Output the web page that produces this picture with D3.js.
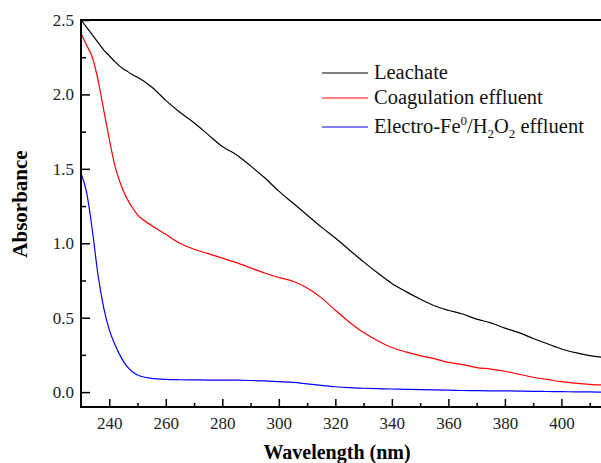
<!DOCTYPE html>
<html><head><meta charset="utf-8">
<script src="https://cdn.jsdelivr.net/npm/d3@7"></script>
<style>body{margin:0;background:#fff}svg{display:block}</style>
</head><body>
<svg id="c" width="601" height="463" font-family="Liberation Serif"></svg>
<script>
const wavelengths = [230,232,234,236,238,240,242,244,246,248,250,255,260,265,270,275,280,285,290,295,300,305,310,315,320,325,330,335,340,345,350,355,360,365,370,375,380,385,390,395,400,405,410,414];
const leachate = [2.50,2.45,2.40,2.35,2.30,2.26,2.22,2.185,2.16,2.135,2.115,2.05,1.96,1.88,1.81,1.73,1.65,1.595,1.52,1.44,1.35,1.27,1.19,1.11,1.035,0.955,0.875,0.80,0.73,0.675,0.625,0.58,0.55,0.525,0.49,0.465,0.43,0.40,0.36,0.325,0.29,0.265,0.245,0.235];
const coagulation = [2.41,2.33,2.25,2.10,1.90,1.70,1.52,1.40,1.31,1.245,1.19,1.12,1.06,1.00,0.96,0.93,0.90,0.87,0.835,0.80,0.77,0.745,0.70,0.635,0.55,0.47,0.40,0.345,0.30,0.27,0.245,0.225,0.20,0.185,0.165,0.155,0.14,0.12,0.10,0.085,0.07,0.06,0.052,0.048];
const electro = [1.47,1.34,1.09,0.79,0.57,0.42,0.32,0.24,0.18,0.14,0.115,0.092,0.085,0.083,0.082,0.081,0.081,0.080,0.078,0.075,0.070,0.065,0.055,0.045,0.036,0.030,0.026,0.023,0.021,0.019,0.017,0.015,0.013,0.011,0.010,0.009,0.008,0.007,0.005,0.004,0.003,0.002,0.001,0.000];
const seriesNames = ["Leachate","Coagulation effluent","Electro-Fe0/H2O2 effluent"];
const seriesColors = ["#000000","#ff0000","#0000ff"];
const xTicks = [240,260,280,300,320,340,360,380,400];
const yTicks = [0.0,0.5,1.0,1.5,2.0,2.5];

const FONT = "Liberation Serif";
const svg = d3.select("#c");
const L=81, R=601, T=20, B=407;
const x = d3.scaleLinear().domain([230,414]).range([L,R]);
const y = d3.scaleLinear().domain([-0.1,2.5]).range([B,T]);

const data = [leachate, coagulation, electro];
const line = d3.line().x((d,i)=>x(wavelengths[i])).y(d=>y(d)).curve(d3.curveMonotoneX);
data.forEach((s,k)=>{
  svg.append("path").datum(s).attr("d",line).attr("fill","none")
    .attr("stroke",seriesColors[k]).attr("stroke-width",1.2);
});

const yAxis = d3.axisLeft(y).tickValues(yTicks).tickFormat(d3.format(".1f")).tickSizeInner(-9).tickSizeOuter(0).tickPadding(7);
const gy = svg.append("g").attr("transform",`translate(${L},0)`).call(yAxis);
const xAxis = d3.axisBottom(x).tickValues(xTicks).tickFormat(d3.format("d")).tickSizeInner(-8).tickSizeOuter(0).tickPadding(10);
const gx = svg.append("g").attr("transform",`translate(0,${B})`).call(xAxis);
const gyMinor = svg.append("g").attr("transform",`translate(${L},0)`)
  .call(d3.axisLeft(y).tickValues([0.25,0.75,1.25,1.75,2.25]).tickFormat("").tickSizeInner(-5).tickSizeOuter(0));
const gxMinor = svg.append("g").attr("transform",`translate(0,${B})`)
  .call(d3.axisBottom(x).tickValues([250,270,290,310,330,350,370,390,410]).tickFormat("").tickSizeInner(-4).tickSizeOuter(0));
[gy,gx,gyMinor,gxMinor].forEach(g=>{
  g.attr("font-family",FONT);
  g.selectAll(".domain").remove();
  g.selectAll("line").attr("stroke","#000").attr("stroke-width",1.5);
  g.selectAll("text").attr("font-family",FONT).attr("font-size",17).attr("fill","#222");
});
svg.append("line").attr("x1",L).attr("x2",L).attr("y1",T-1).attr("y2",B+1).attr("stroke","#000").attr("stroke-width",2);
svg.append("line").attr("x1",L-1).attr("x2",R).attr("y1",B).attr("y2",B).attr("stroke","#000").attr("stroke-width",2);
svg.append("line").attr("x1",L-1).attr("x2",R).attr("y1",T).attr("y2",T).attr("stroke","#000").attr("stroke-width",2);

svg.append("text").attr("transform","translate(27,204) rotate(-90)").attr("text-anchor","middle")
  .attr("font-family",FONT).attr("font-weight","bold").attr("font-size",21).attr("fill","#000").text("Absorbance");
svg.append("text").attr("x",337).attr("y",459).attr("text-anchor","middle")
  .attr("font-family",FONT).attr("font-weight","bold").attr("font-size",20).attr("fill","#000").text("Wavelength (nm)");

const legY = [73,98,127];
const lg = svg.append("g").attr("font-family",FONT);
seriesNames.forEach((n,k)=>{
  lg.append("line").attr("x1",322).attr("x2",368).attr("y1",legY[k]).attr("y2",legY[k])
    .attr("stroke",seriesColors[k]).attr("stroke-width",1.2);
  const t = lg.append("text").attr("x",374).attr("y",legY[k]+6).attr("font-family",FONT).attr("font-size",20.5).attr("fill","#111");
  if(k<2){ t.text(n); }
  else {
    t.append("tspan").text("Electro-Fe");
    t.append("tspan").attr("font-size",13).attr("dy",-8).text("0");
    t.append("tspan").attr("dy",8).text("/H");
    t.append("tspan").attr("font-size",13).attr("dy",5).text("2");
    t.append("tspan").attr("dy",-5).text("O");
    t.append("tspan").attr("font-size",13).attr("dy",5).text("2");
    t.append("tspan").attr("dy",-5).text(" effluent");
  }
});
</script>
</body></html>
